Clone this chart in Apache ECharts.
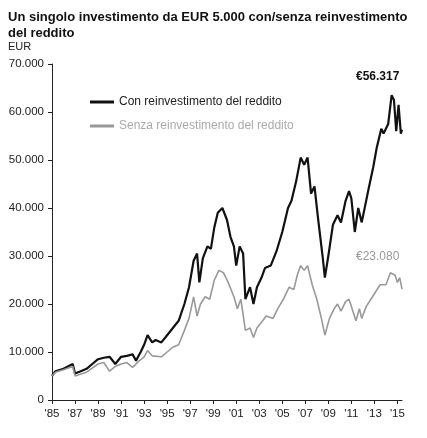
<!DOCTYPE html>
<html><head><meta charset="utf-8">
<script src="https://cdn.jsdelivr.net/npm/echarts@6/dist/echarts.min.js"></script>
<style>html,body{margin:0;padding:0;background:#fff}#c{width:427px;height:438px}</style>
</head><body><div id="c"></div>
<script>
const withReinvYears = [1985,1985.3,1986,1986.8,1987,1987.5,1988,1988.5,1989,1989.5,1990,1990.5,1991,1991.5,1992,1992.3,1992.7,1993,1993.3,1993.7,1994,1994.5,1995,1995.5,1996,1996.5,1996.9,1997.3,1997.6,1997.8,1998.1,1998.5,1998.8,1999.1,1999.4,1999.8,2000.2,2000.5,2000.8,2001,2001.3,2001.6,2001.8,2002.2,2002.5,2002.8,2003.2,2003.5,2004,2004.5,2005,2005.5,2005.8,2006.2,2006.6,2006.9,2007.2,2007.5,2007.8,2008.1,2008.5,2008.7,2009,2009.4,2009.8,2010.1,2010.5,2010.8,2011,2011.3,2011.6,2011.9,2012.2,2012.5,2012.9,2013.2,2013.6,2013.8,2014.2,2014.5,2014.7,2014.9,2015.1,2015.3,2015.4];
const withReinv = [5000,6000,6500,7500,5500,6000,6500,7500,8500,8800,9000,7500,9000,9200,9500,8200,10000,11500,13500,12000,12500,12000,13500,15000,16500,20000,23500,29000,30500,24500,29500,32000,31500,36000,39000,40000,37500,34000,32000,28000,32000,30500,21000,23500,20000,23500,25500,27500,28000,31000,35000,40000,41500,45500,50500,49000,50500,43000,44500,38000,30000,25500,30000,36500,38500,37000,41500,43500,42000,35000,40000,37000,40500,44000,48500,52500,56500,55500,57500,63500,62500,56000,61500,55500,56317];
const withoutYears = [1985,1985.3,1986,1986.8,1987,1988,1989,1989.5,1990,1990.5,1991,1991.5,1992,1992.5,1993,1993.3,1993.7,1994.5,1995,1995.5,1996,1996.5,1996.9,1997.3,1997.6,1997.9,1998.3,1998.7,1999.1,1999.5,1999.9,2000.3,2000.8,2001.1,2001.4,2001.8,2002.2,2002.5,2002.8,2003.3,2003.6,2004.2,2004.6,2005.1,2005.6,2006,2006.3,2006.6,2006.9,2007.2,2007.6,2008,2008.4,2008.7,2009.1,2009.5,2009.8,2010.1,2010.5,2010.8,2011.2,2011.4,2011.7,2011.9,2012.3,2012.7,2013.1,2013.5,2014,2014.4,2014.8,2015,2015.2,2015.4];
const withoutReinv = [5000,5800,6300,7000,5000,5800,7500,7800,6000,7000,7500,7800,6800,8000,9000,10300,9200,9000,10000,11000,11500,14500,17000,21500,17500,20000,21500,21000,25000,27000,26500,24500,21500,19000,21000,14500,15000,13000,15000,16500,17500,17000,19000,21000,23500,23000,26000,28000,27000,28000,24000,21000,17000,13500,17000,19000,20000,18500,20500,21000,18000,16500,19000,17000,19500,21000,22500,24000,24000,26500,26000,24500,25500,23080];
const seriesNames = ['Con reinvestimento del reddito','Senza reinvestimento del reddito'];
const endLabels = ['€56.317','€23.080'];

const chart = echarts.init(document.getElementById('c'));
const fmt = v => v === 0 ? '0' : String(v).replace(/\B(?=(\d{3})+(?!\d))/g,'.');
chart.setOption({
  animation:false,
  textStyle:{fontFamily:'Liberation Sans, Arial, sans-serif'},
  title:[{text:'Un singolo investimento da EUR 5.000 con/senza reinvestimento\ndel reddito',left:3,top:4,textStyle:{fontSize:13,fontWeight:'bold',color:'#111',lineHeight:16}},
         {text:'EUR',left:3,top:36,textStyle:{fontSize:11,fontWeight:'normal',color:'#222'}}],
  legend:{left:85,top:91,orient:'vertical',itemGap:12,itemWidth:24,itemHeight:3,icon:'rect',
    textStyle:{fontSize:12,color:'#222'},
    data:[{name:seriesNames[0]},{name:seriesNames[1],textStyle:{color:'#aaa'}}]},
  grid:{left:52,right:25,top:64,bottom:38},
  graphic:[
    {type:'text',left:356,top:71,style:{text:endLabels[0],font:'bold 12px Liberation Sans, Arial, sans-serif',fill:'#111'}},
    {type:'text',left:356,top:251,style:{text:endLabels[1],font:'12px Liberation Sans, Arial, sans-serif',fill:'#999'}}
  ],
  xAxis:{type:'value',min:1985,max:2015.4,interval:2,
    axisLine:{lineStyle:{color:'#222'}},axisTick:{lineStyle:{color:'#222'},length:4},splitLine:{show:false},
    axisLabel:{showMaxLabel:false,color:'#222',fontSize:11.5,formatter:v=>"'"+String(Math.round(v)).slice(2)}},
  yAxis:{type:'value',min:0,max:70000,interval:10000,
    axisLine:{show:true,lineStyle:{color:'#222'}},axisTick:{show:true,length:4,lineStyle:{color:'#222'}},splitLine:{show:false},
    axisLabel:{color:'#222',fontSize:11.5,formatter:fmt}},
  series:[
    {name:seriesNames[0],type:'line',symbol:'none',lineStyle:{color:'#111',width:2.2},itemStyle:{color:'#111'},
     data:withReinvYears.map((y,i)=>[y,withReinv[i]])},
    {name:seriesNames[1],type:'line',symbol:'none',lineStyle:{color:'#999',width:1.6},itemStyle:{color:'#999'},
     data:withoutYears.map((y,i)=>[y,withoutReinv[i]])}
  ]
});
</script></body></html>
